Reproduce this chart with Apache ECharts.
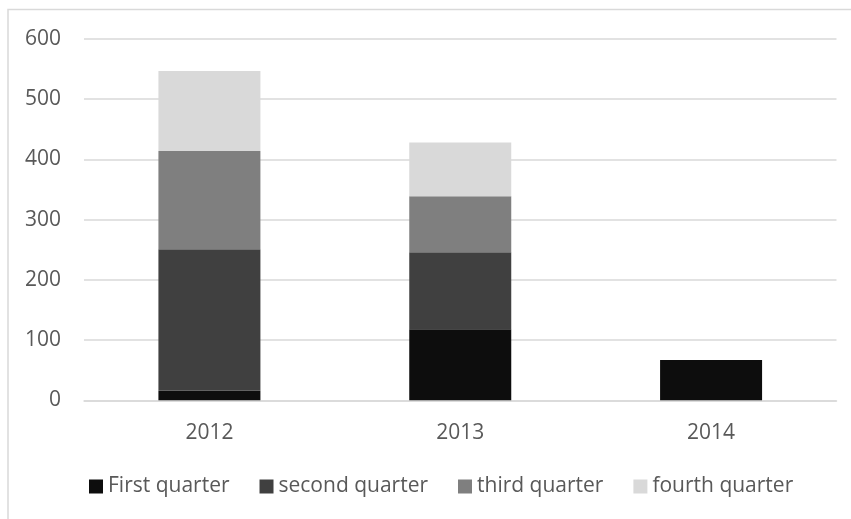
<!DOCTYPE html>
<html><head><meta charset="utf-8">
<script src="https://cdn.jsdelivr.net/npm/echarts@6/dist/echarts.min.js"></script>
<style>html,body{margin:0;padding:0;background:#fff}#c{width:851px;height:519px}</style>
</head><body><div id="c"></div>
<script>
const categories = ['2012', '2013', '2014'];
const firstQuarter = [16, 118, 67];
const secondQuarter = [235, 128, null];
const thirdQuarter = [163, 93, null];
const fourthQuarter = [133, 89, null];
const seriesNames = ['First quarter', 'second quarter', 'third quarter', 'fourth quarter'];
const colors = ['#0d0d0d', '#404040', '#7f7f7f', '#d9d9d9'];
const yTicks = { min: 0, max: 600, interval: 100 };

const font = 'Open Sans';
const chart = echarts.init(document.getElementById('c'), null, { renderer: 'canvas' });
const data = [firstQuarter, secondQuarter, thirdQuarter, fourthQuarter];
chart.setOption({
  animation: false,
  color: colors,
  graphic: [{
    type: 'rect', silent: true, z: -1,
    shape: { x: 8, y: 9.5, width: 900, height: 600 },
    style: { fill: '#fff', stroke: '#d9d9d9', lineWidth: 1.5 }
  }],
  grid: { left: 84, right: 14.5, top: 39, bottom: 118.7, containLabel: false },
  legend: {
    left: 84, top: 471, itemWidth: 14, itemHeight: 14, itemGap: 30,
    icon: 'rect',
    textStyle: { color: '#595959', fontSize: 21, fontFamily: font },
    data: seriesNames
  },
  xAxis: {
    type: 'category', data: categories,
    axisLine: { lineStyle: { color: '#d9d9d9', width: 1.5 } },
    axisTick: { show: false },
    axisLabel: { color: '#595959', fontSize: 21, fontFamily: font, margin: 22 }
  },
  yAxis: {
    type: 'value', min: yTicks.min, max: yTicks.max, interval: yTicks.interval,
    axisLine: { show: false }, axisTick: { show: false },
    splitLine: { lineStyle: { color: '#d9d9d9', width: 1.5 } },
    axisLabel: { color: '#595959', fontSize: 21, fontFamily: font, margin: 23 }
  },
  series: seriesNames.map((n, i) => ({
    name: n, type: 'bar', stack: 'total', barWidth: 102,
    data: data[i],
    itemStyle: { color: colors[i] }
  }))
});
</script></body></html>
